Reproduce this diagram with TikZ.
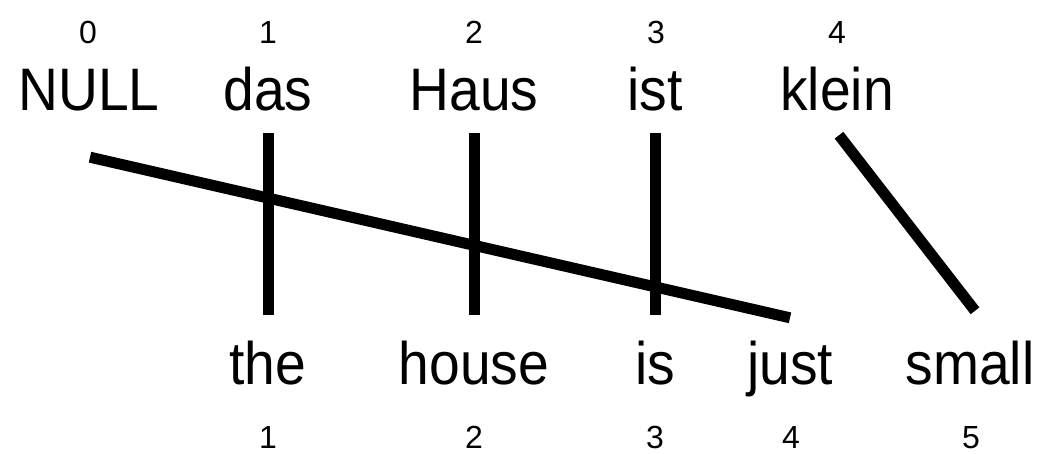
\documentclass[tikz,border=0pt]{standalone}
\usepackage{fontspec}
\setmainfont{Liberation Sans}
\newfontfamily\wordfont[FakeStretch=0.92]{Liberation Sans}
\usetikzlibrary{calc}
\tikzset{
  topword/.style={anchor=base, inner sep=0pt, text depth=23pt, font=\wordfont\fontsize{60}{61}\selectfont},
  botword/.style={anchor=base, inner sep=0pt, text height=69pt, font=\wordfont\fontsize{60}{61}\selectfont},
  idx/.style={anchor=base, inner sep=0pt, font=\fontsize{32}{33}\selectfont},
  link/.style={line width=11pt, line cap=butt}
}
\begin{document}
\begin{tikzpicture}[x=1pt,y=-1pt]
\useasboundingbox (0,0) rectangle (1050,453);
% top indices
\node[idx] (i0) at (88,43) {0};
\node[idx] (i1) at (268,43) {1};
\node[idx] (i2) at (474,43) {2};
\node[idx] (i3) at (656,43) {3};
\node[idx] (i4) at (837,43) {4};
% top words
\node[topword] (NULL) at (89,110) {NULL};
\node[topword] (das) at (268,110) {das};
\node[topword] (Haus) at (474,110) {Haus};
\node[topword] (ist) at (655,110) {ist};
\node[topword] (klein) at (837,110) {klein};
% bottom words
\node[botword] (the) at (268,384) {the};
\node[botword] (house) at (474,384) {house};
\node[botword] (is) at (655,384) {is};
\node[botword] (just) at (790,384) {just};
\node[botword] (small) at (970,384) {small};
% bottom indices
\node[idx] (j1) at (268,448) {1};
\node[idx] (j2) at (474,448) {2};
\node[idx] (j3) at (655,448) {3};
\node[idx] (j4) at (791,448) {4};
\node[idx] (j5) at (971,448) {5};
% alignments
\draw[link] (das.south) -- (the.north);
\draw[link] (Haus.south) -- (house.north);
\draw[link] (ist.south) -- (is.north);
\draw[link] ($(NULL.south)+(1,24)$) -- ($(just.north)+(0,3)$);
\draw[link] ($(klein.south)+(2,2)$) -- ($(small.north)+(5,-4)$);
\end{tikzpicture}
\end{document}
